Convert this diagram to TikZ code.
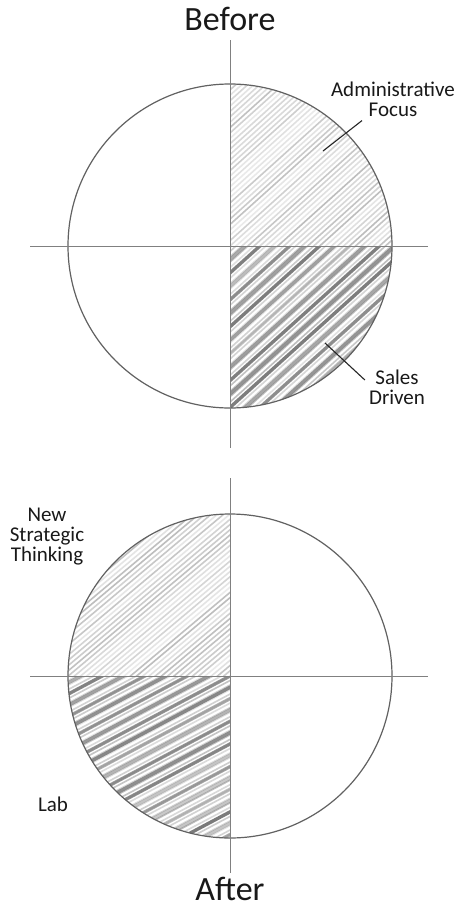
\documentclass[tikz,border=0pt]{standalone}
\usepackage{fontspec}
\setmainfont{Carlito}
\usetikzlibrary{positioning,calc}

\begin{document}
\begin{tikzpicture}[x=1pt, y=-1pt,
    rim/.style={draw=black!62, line width=1.2pt},
    axis/.style={black!50, line width=0.7pt},
    heading/.style={font=\fontsize{34}{38}\selectfont, text=black!90, inner sep=0pt},
    tag/.style={font=\fontsize{21}{20}\selectfont, text=black!90, align=center, inner sep=0pt},
    leader/.style={black!85, line width=1.1pt},
    lightpen/.style={black!26, line width=1.6pt},
    darkpen/.style={black!52, line width=3.4pt},
  ]
  \pgfmathsetseed{42}
  \useasboundingbox[fill=white] (0,0) rectangle (459,908);

  % Before
  \node[heading] (before) at (230,19) {Before};
  \begin{scope}[shift={(230,246)}]
    % upper right: light shading
    \begin{scope}
      \clip (0,0) rectangle (170,-170);
      \clip (0,0) circle (162);
      \foreach \k in {-180,-176,...,180} {
        \pgfmathsetmacro{\op}{0.3+0.7*rnd}
        \draw[lightpen, opacity=\op, rotate=42] (-260,\k) -- (260,\k);
      }
    \end{scope}
    % lower right: dark stripes
    \begin{scope}
      \clip (0,0) rectangle (170,170);
      \clip (0,0) circle (162);
      \foreach \k in {-180,-176,...,180} {
        \pgfmathsetmacro{\op}{0.4+0.6*rnd}
        \draw[lightpen, opacity=\op, rotate=42] (-260,\k) -- (260,\k);
      }
      \foreach \k in {-180,-170,...,180} {
        \pgfmathsetmacro{\op}{0.4+0.6*rnd}
        \draw[darkpen, opacity=\op, rotate=42] (-260,\k) -- (260,\k);
      }
    \end{scope}
    \draw[rim] (0,0) circle (162);
  \end{scope}
  \draw[axis] (230,40) -- (230,448);
  \draw[axis] (30,246) -- (428,246);

  \node[tag] (admin) at (393,99) {Administrative\\Focus};
  \coordinate (adminfoot) at ($(admin.south)+(-31,4)$);
  \coordinate (admintip) at (323,151);
  \draw[leader] (adminfoot) -- (admintip);

  \node[tag] (sales) at (397,387) {Sales\\Driven};
  \coordinate (salesfoot) at ($(sales.west)+(-4,-7)$);
  \coordinate (salestip) at (325,343);
  \draw[leader] (salesfoot) -- (salestip);

  % After
  \begin{scope}[shift={(230,676)}]
    % upper left: light shading
    \begin{scope}
      \clip (0,0) rectangle (-170,-170);
      \clip (0,0) circle (162);
      \foreach \k in {-180,-176,...,180} {
        \pgfmathsetmacro{\op}{0.3+0.7*rnd}
        \draw[lightpen, opacity=\op, rotate=40] (-260,\k) -- (260,\k);
      }
    \end{scope}
    % lower left: dark stripes
    \begin{scope}
      \clip (0,0) rectangle (-170,170);
      \clip (0,0) circle (162);
      \foreach \k in {-180,-176,...,180} {
        \pgfmathsetmacro{\op}{0.4+0.6*rnd}
        \draw[lightpen, opacity=\op, rotate=28] (-260,\k) -- (260,\k);
      }
      \foreach \k in {-180,-170,...,180} {
        \pgfmathsetmacro{\op}{0.4+0.6*rnd}
        \draw[darkpen, opacity=\op, rotate=28] (-260,\k) -- (260,\k);
      }
    \end{scope}
    \draw[rim] (0,0) circle (162);
  \end{scope}
  \draw[axis] (230,478) -- (230,873);
  \draw[axis] (30,676) -- (428,676);

  \node[tag] (strategic) at (47,537) {New\\Strategic\\Thinking};
  \node[tag] (lab) at (53,804) {Lab};
  \node[heading] (after) at (230,889) {After};
\end{tikzpicture}
\end{document}
